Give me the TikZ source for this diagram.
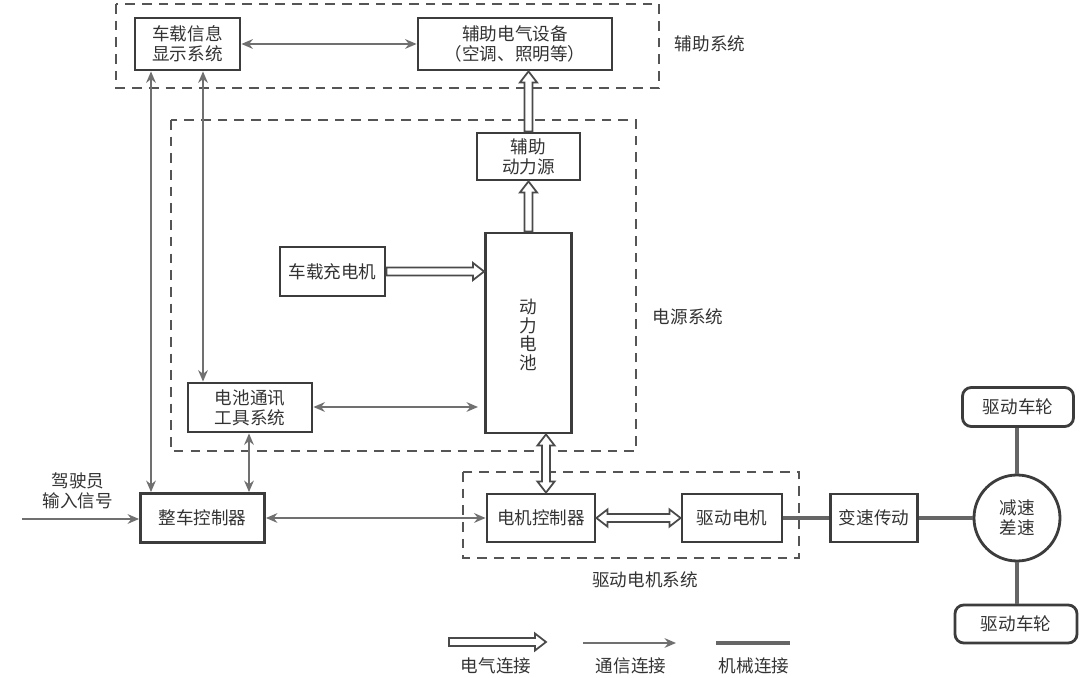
\documentclass[tikz,border=0pt]{standalone}
\usepackage{fontspec}
\setmainfont{Noto Sans CJK SC}
\usetikzlibrary{arrows.meta,calc}
\definecolor{txt}{HTML}{333333}
\definecolor{boxc}{HTML}{3C3C3C}
\definecolor{commc}{HTML}{707070}
\definecolor{dashc}{HTML}{555555}
\definecolor{mechc}{HTML}{666666}
\definecolor{elecc}{HTML}{4A4A4A}
\begin{document}
\begin{tikzpicture}[x=0.02cm,y=-0.02cm,
  >={Stealth[length=6.5pt,width=5.5pt]},
  every node/.style={text=txt,font=\fontsize{10}{11.5}\selectfont},
  blk/.style 2 args={draw=boxc,line width=1.6pt,fill=white,inner sep=0pt,align=center,
     minimum width=#1*0.02cm,minimum height=#2*0.02cm},
  rblk/.style 2 args={blk={#1}{#2},rounded corners=5pt},
  grp/.style={draw=dashc,line width=1.4pt,dash pattern=on 5.5pt off 4pt},
  comm/.style={draw=commc,line width=1.1pt},
  mech/.style={draw=mechc,line width=2.2pt},
  elec/.style={draw=elecc,line width=1pt,fill=white,to path={
     ($(\tikztostart)!0.08cm!90:(\tikztotarget)$)
  -- ($($(\tikztotarget)!0.22cm!(\tikztostart)$)!0.08cm!-90:(\tikztostart)$)
  -- ($($(\tikztotarget)!0.22cm!(\tikztostart)$)!0.17cm!-90:(\tikztostart)$)
  -- (\tikztotarget)
  -- ($($(\tikztotarget)!0.22cm!(\tikztostart)$)!0.17cm!90:(\tikztostart)$)
  -- ($($(\tikztotarget)!0.22cm!(\tikztostart)$)!0.08cm!90:(\tikztostart)$)
  -- ($(\tikztostart)!0.08cm!-90:(\tikztotarget)$) -- cycle}},
  elecb/.style={draw=elecc,line width=1pt,fill=white,to path={
     (\tikztostart)
  -- ($($(\tikztostart)!0.22cm!(\tikztotarget)$)!0.17cm!90:(\tikztotarget)$)
  -- ($($(\tikztostart)!0.22cm!(\tikztotarget)$)!0.08cm!90:(\tikztotarget)$)
  -- ($($(\tikztotarget)!0.22cm!(\tikztostart)$)!0.08cm!-90:(\tikztostart)$)
  -- ($($(\tikztotarget)!0.22cm!(\tikztostart)$)!0.17cm!-90:(\tikztostart)$)
  -- (\tikztotarget)
  -- ($($(\tikztotarget)!0.22cm!(\tikztostart)$)!0.17cm!90:(\tikztostart)$)
  -- ($($(\tikztotarget)!0.22cm!(\tikztostart)$)!0.08cm!90:(\tikztostart)$)
  -- ($($(\tikztostart)!0.22cm!(\tikztotarget)$)!0.08cm!-90:(\tikztotarget)$)
  -- ($($(\tikztostart)!0.22cm!(\tikztotarget)$)!0.17cm!-90:(\tikztotarget)$)
  -- cycle}},
  lbl/.style={inner sep=0pt}
]
\useasboundingbox[fill=white] (0,0) rectangle (1080,678);

% group boxes
\draw[grp] (116,4) rectangle (659,88);
\draw[grp] (171,120) rectangle (636,451);
\draw[grp] (463,472) rectangle (799,558);

% blocks
\node[blk={105}{52}] (disp) at (187.5,44) {车载信息\\显示系统};
\node[blk={194}{52}] (auxeq) at (515,44) {辅助电气设备\\（空调、照明等）};
\node[blk={103}{47}] (auxpow) at (528.5,156.5) {辅助\\动力源};
\node[blk={86}{200}] (batt) at (528.5,333) {};
\node[lbl,align=center,font=\fontsize{10}{10.6}\selectfont] (battt) at (528.5,335) {动\\力\\电\\池};
\node[blk={105}{49}] (charger) at (332.5,271.5) {车载充电机};
\node[blk={124}{49}] (bms) at (250,407.5) {电池通讯\\工具系统};
\node[blk={124}{49}] (vcu) at (202.5,518) {整车控制器};
\node[blk={108}{48}] (mcu) at (541,518) {电机控制器};
\node[blk={100}{48}] (motor) at (732,518) {驱动电机};
\node[blk={87}{48}] (trans) at (874,518) {变速传动};
\node[draw=boxc,line width=1.6pt,fill=white,circle,inner sep=0pt,minimum size=86*0.02cm,align=center] (diff) at (1017,518) {减速\\差速};
\node[rblk={111}{39}] (wheela) at (1018,407) {驱动车轮};
\node[rblk={122}{38}] (wheelb) at (1016,624) {驱动车轮};

% group labels
\node[lbl] (gaux) at (710,44) {辅助系统};
\node[lbl] (gpow) at (688,317) {电源系统};
\node[lbl] (gmot) at (645,580) {驱动电机系统};
\node[lbl,align=center] (drvt) at (78,491) {驾驶员\\输入信号};

% communication links
\draw[comm,<->] (disp.east) -- (auxeq.west);
\draw[comm,<->] (151,0 |- disp.south) -- (151,0 |- vcu.north);
\draw[comm,<->] (203,0 |- disp.south) -- (203,0 |- bms.north);
\draw[comm,<->] (249,0 |- bms.south) -- (249,0 |- vcu.north);
\coordinate (bmsend) at (478,407);
\draw[comm,<->] (bms.east |- bmsend) -- (bmsend);
\draw[comm,<->] (vcu.east) -- (mcu.west);
\coordinate (drv) at (22,519);
\draw[comm,->] (drv) -- (vcu.west |- drv);

% electrical links
\draw[elec] (charger.east) to (charger.east -| batt.west);
\draw[elec] (batt.north) to (auxpow.south);
\draw[elec] (528.5,0 |- auxpow.north) to (528.5,0 |- auxeq.south);
\draw[elecb] (546,0 |- batt.south) to (546,0 |- mcu.north);
\draw[elecb] (mcu.east) to (motor.west);

% mechanical links
\draw[mech] (motor.east) -- (trans.west);
\draw[mech] (trans.east) -- (diff.west);
\draw[mech] (diff.north) -- (diff.north |- wheela.south);
\draw[mech] (diff.south) -- (diff.south |- wheelb.north);

% legend
\coordinate (le1) at (449,642); \coordinate (le2) at (546,642);
\coordinate (lc1) at (583,643); \coordinate (lc2) at (676,643);
\coordinate (lm1) at (716,643); \coordinate (lm2) at (790,643);
\draw[elec] (le1) to (le2);
\draw[comm,->] (lc1) -- (lc2);
\draw[mech] (lm1) -- (lm2);
\node[lbl] (lt1) at (496,666) {电气连接};
\node[lbl] (lt2) at (631,666) {通信连接};
\node[lbl] (lt3) at (754,666) {机械连接};
\end{tikzpicture}
\end{document}
